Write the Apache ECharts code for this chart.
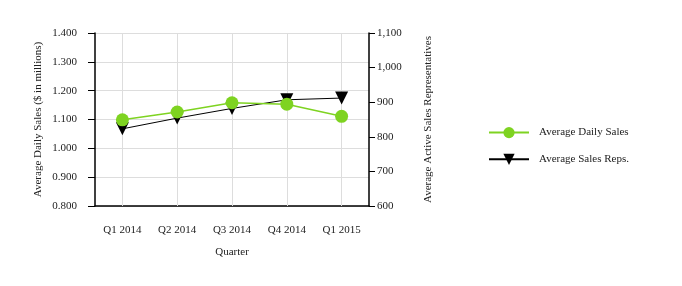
<!DOCTYPE html>
<html><head><meta charset="utf-8">
<script src="https://cdn.jsdelivr.net/npm/echarts@6/dist/echarts.min.js"></script>
<style>html,body{margin:0;padding:0;background:#fff}#c{width:682px;height:286px}</style>
</head><body><div id="c"></div>
<script>
const categories = ['Q1 2014','Q2 2014','Q3 2014','Q4 2014','Q1 2015'];
const dailySales = [1.099, 1.126, 1.158, 1.153, 1.111];
const salesReps = [823, 854, 882, 907, 912];
const font = 'Liberation Serif';
const chart = echarts.init(document.getElementById('c'));
chart.setOption({
  animation: false,
  textStyle: {fontFamily: font},
  grid: {left: 95, right: 313, top: 33, bottom: 80},
  legend: {
    orient: 'vertical', left: 483, top: 122, itemGap: 15.5, itemWidth: 40, itemHeight: 14,
    textStyle: {fontFamily: font, fontSize: 11, color: '#222', padding: [0, 0, 0, 5]},
    data: ['Average Daily Sales', 'Average Sales Reps.']
  },
  xAxis: {
    type: 'category', data: categories, boundaryGap: true,
    name: 'Quarter', nameLocation: 'middle', nameGap: 41,
    nameTextStyle: {fontFamily: font, fontSize: 11, color: '#222'},
    axisLine: {lineStyle: {color: '#000', width: 1.5}},
    axisTick: {alignWithLabel: true, length: 5, lineStyle: {color: '#000'}},
    axisLabel: {fontFamily: font, fontSize: 11, color: '#222', margin: 19},
    splitLine: {show: false}
  },
  yAxis: [{
    type: 'value', min: 0.8, max: 1.4, interval: 0.1, position: 'left',
    name: 'Average Daily Sales ($ in millions)', nameLocation: 'middle', nameGap: 51,
    nameTextStyle: {fontFamily: font, fontSize: 11, color: '#222'},
    axisLine: {show: true, lineStyle: {color: '#000', width: 1.5}},
    axisTick: {show: true, length: 7, lineStyle: {color: '#000'}},
    axisLabel: {fontFamily: font, fontSize: 11, color: '#222', margin: 18, formatter: v => v.toFixed(3)},
    splitLine: {show: true, lineStyle: {color: '#ddd'}}
  }, {
    type: 'value', min: 600, max: 1100, interval: 100, position: 'right',
    name: 'Average Active Sales Representatives', nameLocation: 'middle', nameGap: 54, nameRotate: 90,
    nameTextStyle: {fontFamily: font, fontSize: 11, color: '#222'},
    axisLine: {show: true, lineStyle: {color: '#000', width: 1.5}},
    axisTick: {show: true, length: 6, lineStyle: {color: '#000'}},
    axisLabel: {fontFamily: font, fontSize: 11, color: '#222', margin: 8,
      formatter: v => v.toLocaleString('en-US')},
    splitLine: {show: false}
  }],
  series: [{
    name: 'Average Sales Reps.', type: 'line', yAxisIndex: 1, data: salesReps,
    symbol: 'path://M0,0 L10,0 L5,10 Z', symbolSize: 13,
    lineStyle: {color: '#000', width: 1}, itemStyle: {color: '#000'}, z: 3,
    markLine: {
      silent: true, symbol: ['none', 'none'], label: {show: false}, z: 1,
      lineStyle: {color: '#ddd', type: 'solid', width: 1},
      data: categories.map(c => ({xAxis: c}))
    }
  }, {
    name: 'Average Daily Sales', type: 'line', yAxisIndex: 0, data: dailySales,
    symbol: 'circle', symbolSize: 13,
    lineStyle: {color: '#7ed321', width: 1.5}, itemStyle: {color: '#7ed321'}, z: 4
  }]
});
</script></body></html>
